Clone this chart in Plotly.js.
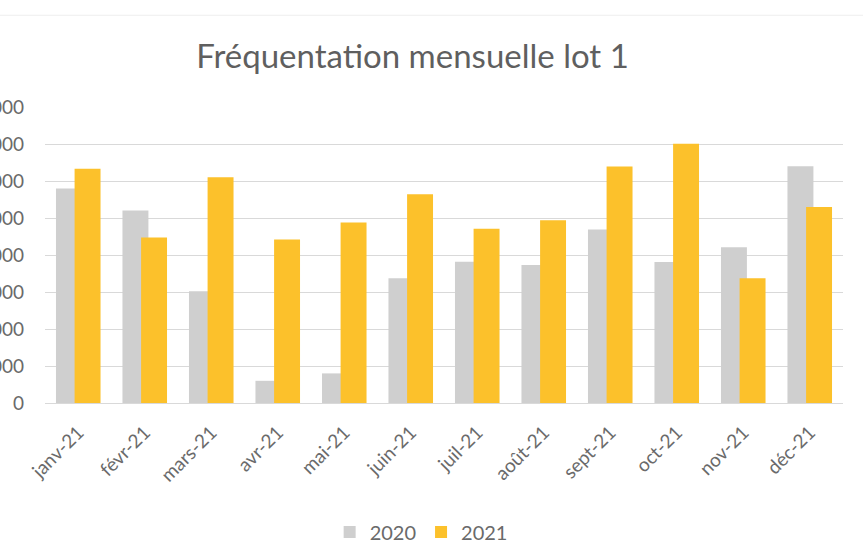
<!DOCTYPE html>
<html>
<head>
<meta charset="utf-8">
<script src="https://cdn.plot.ly/plotly-3.0.1.min.js"></script>
<style>
html,body{margin:0;padding:0;background:#fff;overflow:hidden;}
#chart{width:863px;height:557px;}
</style>
</head>
<body>
<div id="chart"></div>
<script>
const months = ['janv-21','févr-21','mars-21','avr-21','mai-21','juin-21','juil-21','août-21','sept-21','oct-21','nov-21','déc-21'];
const values2020 = [5800,5200,3020,600,800,3370,3820,3730,4690,3810,4210,6400];
const values2021 = [6330,4470,6100,4420,4880,5640,4710,4940,6390,7010,3370,5300];
const yTicks = [0,1000,2000,3000,4000,5000,6000,7000,8000];

const font = 'Lato, "Noto Sans", sans-serif';
const traces = [
  {type:'bar', name:'2020', x:months, y:values2020, marker:{color:'#cfcfcf'}, width:0.39, offset:-0.335, hoverinfo:'skip'},
  {type:'bar', name:'2021', x:months, y:values2021, marker:{color:'#fcc12b'}, width:0.39, offset:-0.055, hoverinfo:'skip'}
];
const layout = {
  width:863, height:557,
  margin:{l:45, r:20, t:107, b:154, pad:0},
  paper_bgcolor:'#fff', plot_bgcolor:'#fff',
  barmode:'overlay',
  font:{family:font, color:'#595959'},
  title:{text:'Fréquentation mensuelle lot 1', x:0.478, xanchor:'center', y:0.898, yanchor:'middle',
         font:{family:font, size:33, color:'#5f5f5f'}},
  xaxis:{type:'category', tickangle:-45, tickfont:{size:19, color:'#6a6a6a'}, showgrid:false,
         showline:true, linecolor:'#d9d9d9', linewidth:1, ticks:'', zeroline:false, fixedrange:true,
         ticklabelstandoff:10, automargin:false},
  yaxis:{range:[0,8000], tickvals:yTicks, ticktext:yTicks.map(String), tickfont:{size:19, color:'#6a6a6a'},
         showgrid:true, gridcolor:'#d9d9d9', gridwidth:1, zeroline:false, ticks:'', ticklabelstandoff:20,
         fixedrange:true, automargin:false},
  legend:{orientation:'h', xref:'container', x:0.488, xanchor:'center', yref:'container', y:0.045, yanchor:'middle',
          font:{size:20, color:'#6a6a6a'}, itemwidth:30, traceorder:'normal'},
  shapes:[{type:'line', xref:'paper', yref:'paper', x0:-0.1, x1:1.1, y0:1.31, y1:1.31, line:{color:'#eeeeee', width:1}}]
};
Plotly.newPlot('chart', traces, layout, {displayModeBar:false, staticPlot:true});
</script>
</body>
</html>
